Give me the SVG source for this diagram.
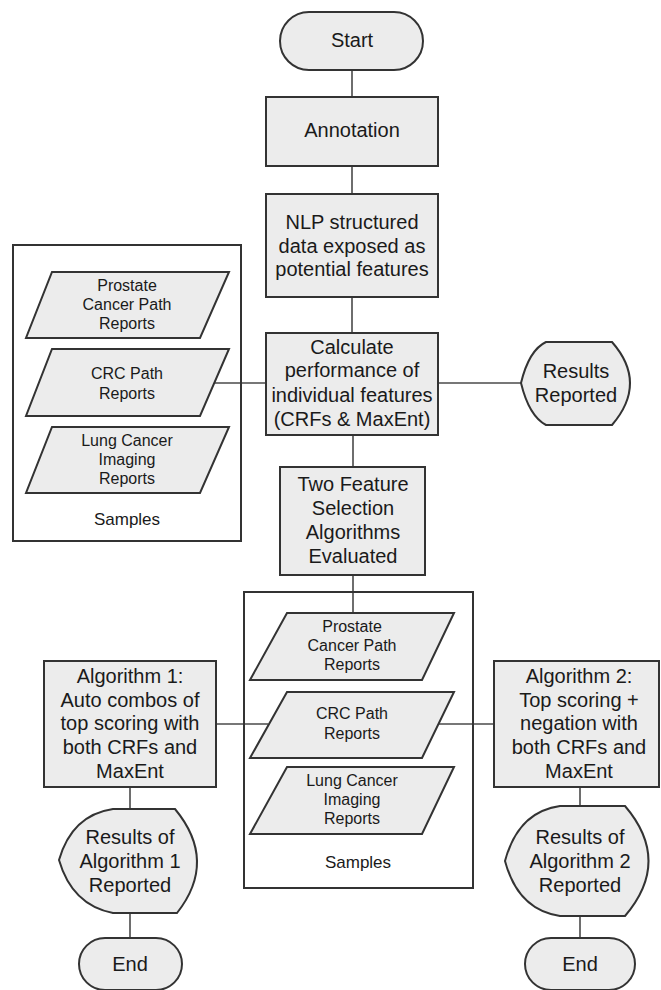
<svg xmlns="http://www.w3.org/2000/svg" width="661" height="990" viewBox="0 0 661 990">
<style>
.n{fill:#ececec;stroke:#333;stroke-width:2}
.c{fill:none;stroke:#4a4a4a;stroke-width:1.6}
.frame{fill:none;stroke:#333;stroke-width:2}
text{font-family:"Liberation Sans",Arial,sans-serif;fill:#1a1a1a;text-anchor:middle}
.t{font-size:20px}
.s{font-size:16px}
.m{font-size:17px}
</style>
<rect width="661" height="990" fill="#fff"/>
<g id="connectors">
<line class="c" x1="352" y1="70" x2="352" y2="97"/>
<line class="c" x1="352" y1="166" x2="352" y2="194"/>
<line class="c" x1="352" y1="297" x2="352" y2="333"/>
<line class="c" x1="353" y1="435" x2="353" y2="467"/>
<line class="c" x1="353" y1="575" x2="353" y2="613"/>
<line class="c" x1="438" y1="383" x2="521" y2="383"/>
<line class="c" x1="214" y1="383" x2="266" y2="383"/>
<line class="c" x1="216" y1="724" x2="268" y2="724"/>
<line class="c" x1="438" y1="724" x2="494" y2="724"/>
<line class="c" x1="130" y1="787" x2="130" y2="809"/>
<line class="c" x1="130" y1="913" x2="130" y2="938"/>
<line class="c" x1="580" y1="787" x2="580" y2="806"/>
<line class="c" x1="580" y1="916" x2="580" y2="938"/>
</g>
<g id="samples1">
<rect class="frame" x="13" y="245" width="228" height="296"/>
<text class="m" x="127" y="525">Samples</text>
</g>
<g id="samples2">
<rect class="frame" x="244" y="592" width="229" height="296"/>
<text class="m" x="358" y="868">Samples</text>
</g>
<g id="start">
<rect class="n" x="280" y="12" width="143" height="58" rx="29" ry="29"/>
<text class="t" x="352" y="47">Start</text>
</g>
<g id="annotation">
<rect class="n" x="266" y="97" width="172" height="69"/>
<text class="t" x="352" y="137">Annotation</text>
</g>
<g id="nlp">
<rect class="n" x="266" y="194" width="172" height="103"/>
<text class="t" x="352" y="229">NLP structured</text>
<text class="t" x="352" y="253">data exposed as</text>
<text class="t" x="352" y="276">potential features</text>
</g>
<g id="calculate">
<rect class="n" x="266" y="333" width="172" height="102"/>
<text class="t" x="352" y="354">Calculate</text>
<text class="t" x="352" y="377">performance of</text>
<text class="t" x="352" y="402">individual features</text>
<text class="t" x="352" y="426">(CRFs &amp; MaxEnt)</text>
</g>
<g id="results">
<path class="n" d="M521,383 Q529,350 546,342 L612,342 Q648,383 612,425 L546,425 Q529,416 521,383 Z"/>
<text class="t" x="576" y="378">Results</text>
<text class="t" x="576" y="402">Reported</text>
</g>
<g id="prostate1">
<polygon class="n" points="52,272 229,272 200,338 26,338"/>
<text class="s" x="127" y="291">Prostate</text>
<text class="s" x="127" y="310">Cancer Path</text>
<text class="s" x="127" y="329">Reports</text>
</g>
<g id="crc1">
<polygon class="n" points="52,349 229,349 200,416 26,416"/>
<text class="s" x="127" y="379">CRC Path</text>
<text class="s" x="127" y="399">Reports</text>
</g>
<g id="lung1">
<polygon class="n" points="52,427 229,427 200,493 26,493"/>
<text class="s" x="127" y="446">Lung Cancer</text>
<text class="s" x="127" y="465">Imaging</text>
<text class="s" x="127" y="484">Reports</text>
</g>
<g id="twofeature">
<rect class="n" x="280" y="467" width="145" height="108"/>
<text class="t" x="353" y="491">Two Feature</text>
<text class="t" x="353" y="515">Selection</text>
<text class="t" x="353" y="539">Algorithms</text>
<text class="t" x="353" y="563">Evaluated</text>
</g>
<g id="prostate2">
<polygon class="n" points="287,613 454,613 422,680 250,680"/>
<text class="s" x="352" y="632">Prostate</text>
<text class="s" x="352" y="651">Cancer Path</text>
<text class="s" x="352" y="670">Reports</text>
</g>
<g id="crc2">
<polygon class="n" points="287,692 454,692 422,758 250,758"/>
<text class="s" x="352" y="719">CRC Path</text>
<text class="s" x="352" y="739">Reports</text>
</g>
<g id="lung2">
<polygon class="n" points="287,767 454,767 422,834 250,834"/>
<text class="s" x="352" y="786">Lung Cancer</text>
<text class="s" x="352" y="805">Imaging</text>
<text class="s" x="352" y="824">Reports</text>
</g>
<g id="algorithm1">
<rect class="n" x="44" y="661" width="172" height="126"/>
<text class="t" x="130" y="683">Algorithm 1:</text>
<text class="t" x="130" y="707">Auto combos of</text>
<text class="t" x="130" y="730">top scoring with</text>
<text class="t" x="130" y="754">both CRFs and</text>
<text class="t" x="130" y="778">MaxEnt</text>
</g>
<g id="algorithm2">
<rect class="n" x="494" y="661" width="165" height="126"/>
<text class="t" x="579" y="683">Algorithm 2:</text>
<text class="t" x="579" y="707">Top scoring +</text>
<text class="t" x="579" y="730">negation with</text>
<text class="t" x="579" y="754">both CRFs and</text>
<text class="t" x="579" y="778">MaxEnt</text>
</g>
<g id="results1">
<path class="n" d="M59,860 Q72,815 113,809 L175,809 Q218,861 177,913 L113,913 Q72,905 59,860 Z"/>
<text class="t" x="130" y="844">Results of</text>
<text class="t" x="130" y="868">Algorithm 1</text>
<text class="t" x="130" y="892">Reported</text>
</g>
<g id="results2">
<path class="n" d="M505,861 Q518,812 560,806 L625,806 Q672,861 625,916 L560,916 Q518,910 505,861 Z"/>
<text class="t" x="580" y="844">Results of</text>
<text class="t" x="580" y="868">Algorithm 2</text>
<text class="t" x="580" y="892">Reported</text>
</g>
<g id="end1">
<rect class="n" x="79" y="938" width="103" height="52" rx="26" ry="26"/>
<text class="t" x="130" y="971">End</text>
</g>
<g id="end2">
<rect class="n" x="525" y="938" width="110" height="52" rx="26" ry="26"/>
<text class="t" x="580" y="971">End</text>
</g>
</svg>
